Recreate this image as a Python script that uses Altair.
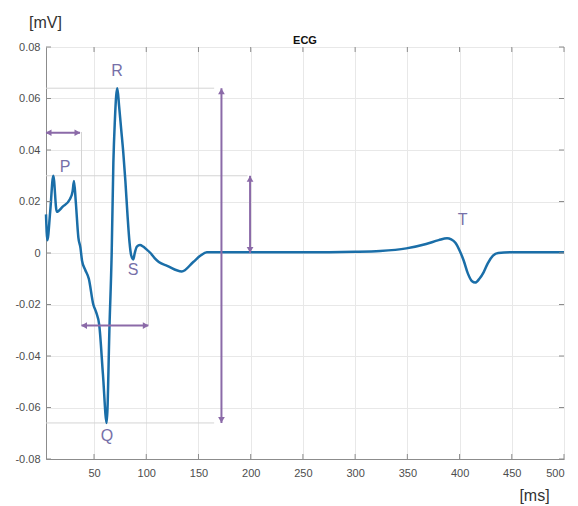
import altair as alt
import pandas as pd

# ECG trace (ms, mV)
ecg_ms = [4, 5.3, 8, 11, 14.3, 20, 27, 29.5, 30.8, 32.5, 35, 37, 38.5, 41.5, 45, 49.3, 52, 55,
          58.5, 62.1, 64.9, 66.9, 68.5, 70, 71.2, 72.3, 74, 76, 78, 80, 82, 84, 85.5, 87.6,
          89, 91, 94, 97, 100, 104, 108, 112, 120, 134, 145, 152, 158, 200, 250, 300, 324, 349,
          368, 380, 388, 392, 396, 400, 404, 408, 412, 415, 419, 423, 427, 432, 437, 450, 500]
ecg_mv = [0.015, 0.005, 0.016, 0.030, 0.016, 0.018, 0.021, 0.024, 0.028, 0.020, 0.006, 0.002,
          -0.003, -0.0065, -0.010, -0.020, -0.023, -0.028, -0.047, -0.066, -0.027, 0.0, 0.035,
          0.052, 0.061, 0.064, 0.057, 0.048, 0.039, 0.028, 0.015, 0.004, -0.0008, -0.0025, 0.0,
          0.0025, 0.0031, 0.0025, 0.0015, 0.0, -0.002, -0.0035, -0.005, -0.0072, -0.0035, -0.001,
          0.0003, 0.0003, 0.0003, 0.0005, 0.0008, 0.0018, 0.0035, 0.005, 0.0057, 0.0053, 0.0040,
          0.0010, -0.003, -0.008, -0.011, -0.0115, -0.010, -0.0075, -0.004, -0.001, 0.0, 0.0003,
          0.0003]

# wave labels
wave_names = ["P", "R", "S", "Q", "T"]
wave_ms = [22.2, 72, 87.4, 62.4, 403]
wave_mv = [0.0334, 0.0705, -0.0066, -0.0712, 0.0128]

# grey guide segments (x1, y1, x2, y2)
guide_x1 = [4, 4, 4, 38, 102]
guide_y1 = [0.064, -0.066, 0.030, 0.047, 0.0005]
guide_x2 = [165, 165, 197, 38, 102]
guide_y2 = [0.064, -0.066, 0.030, -0.028, -0.028]

# double arrows (x1, y1, x2, y2)
arrow_x1 = [4, 38, 172, 199.4]
arrow_y1 = [0.0467, -0.0282, 0.064, 0.030]
arrow_x2 = [36.6, 102, 172, 199.4]
arrow_y2 = [0.0467, -0.0282, -0.066, 0.0]

x_ticks = [50, 100, 150, 200, 250, 300, 350, 400, 450, 500]
y_ticks = [-0.08, -0.06, -0.04, -0.02, 0, 0.02, 0.04, 0.06, 0.08]

ecg = pd.DataFrame({"ms": ecg_ms, "mv": ecg_mv})
waves = pd.DataFrame({"name": wave_names, "ms": wave_ms, "mv": wave_mv})
guides = pd.DataFrame({"x1": guide_x1, "y1": guide_y1, "x2": guide_x2, "y2": guide_y2})
arrows = pd.DataFrame({"x1": arrow_x1, "y1": arrow_y1, "x2": arrow_x2, "y2": arrow_y2})
xt = pd.DataFrame({"v": x_ticks})
yt = pd.DataFrame({"v": y_ticks})

# arrow heads
head_rows = []
for x1, y1, x2, y2 in zip(arrow_x1, arrow_y1, arrow_x2, arrow_y2):
    if y1 == y2:
        head_rows.append({"x": x1 + 2.5, "y": y1, "shape": "triangle-left"})
        head_rows.append({"x": x2 - 2.5, "y": y2, "shape": "triangle-right"})
    else:
        top, bot = max(y1, y2), min(y1, y2)
        head_rows.append({"x": x1, "y": top - 0.0012, "shape": "triangle-up"})
        head_rows.append({"x": x1, "y": bot + 0.0012, "shape": "triangle-down"})
heads = pd.DataFrame(head_rows)

W, H = 518, 412
xs = alt.Scale(domain=[4, 500], nice=False, zero=False)
ys = alt.Scale(domain=[-0.08, 0.08], nice=False)

FONT = "Liberation Sans"
ylabel = ("datum.value == 0 ? '0' : (datum.value < 0 ? '-' + format(-datum.value, '.2f') "
          ": format(datum.value, '.2f'))")

x_axis = alt.Axis(values=x_ticks, grid=True, gridColor="#e8e8e8", ticks=False,
                  labelPadding=8, labelFont=FONT, labelFontSize=11, labelColor="#4d4d4d",
                  domainColor="#8c8c8c", title="[ms]", titleFont=FONT, titleFontSize=16,
                  titleFontWeight="normal", titleColor="#333333", titleX=488, titleY=41,
                  titleAlign="center", titleBaseline="alphabetic")
y_axis = alt.Axis(values=y_ticks, grid=True, gridColor="#e8e8e8", ticks=False,
                  labelPadding=6, labelFont=FONT, labelFontSize=11, labelColor="#4d4d4d",
                  labelExpr=ylabel, domainColor="#8c8c8c", title="[mV]", titleFont=FONT,
                  titleFontSize=16, titleFontWeight="normal", titleColor="#333333",
                  titleAngle=0, titleX=-1, titleY=-20, titleAlign="center",
                  titleBaseline="alphabetic")

line = alt.Chart(ecg).mark_line(color="#1a6ea8", strokeWidth=2.5, interpolate="monotone").encode(
    x=alt.X("ms:Q", scale=xs, axis=x_axis),
    y=alt.Y("mv:Q", scale=ys, axis=y_axis),
)

TICK = "#8c8c8c"
bottom_ticks = alt.Chart(xt).mark_rule(color=TICK, strokeWidth=1).encode(
    x="v:Q", y=alt.value(H), y2=alt.value(H - 5))
top_ticks = alt.Chart(xt).mark_rule(color=TICK, strokeWidth=1).encode(
    x="v:Q", y=alt.value(0), y2=alt.value(5))
left_ticks = alt.Chart(yt).mark_rule(color=TICK, strokeWidth=1).encode(
    y="v:Q", x=alt.value(0), x2=alt.value(5))
right_ticks = alt.Chart(yt).mark_rule(color=TICK, strokeWidth=1).encode(
    y="v:Q", x=alt.value(W), x2=alt.value(W - 5))

guide_layer = alt.Chart(guides).mark_rule(color="#d4d4d4", strokeWidth=1).encode(
    x="x1:Q", y="y1:Q", x2="x2:Q", y2="y2:Q")

arrow_layer = alt.Chart(arrows).mark_rule(color="#8b6aa8", strokeWidth=2).encode(
    x="x1:Q", y="y1:Q", x2="x2:Q", y2="y2:Q")

head_layer = alt.Chart(heads).mark_point(filled=True, color="#8b6aa8", size=45, opacity=1).encode(
    x="x:Q", y="y:Q",
    shape=alt.Shape("shape:N", scale=None, legend=None))

label_layer = alt.Chart(waves).mark_text(font=FONT, fontSize=16, color="#7670a8",
                                         align="center", baseline="middle").encode(
    x="ms:Q", y="mv:Q", text="name:N")

chart = alt.layer(guide_layer, line, bottom_ticks, top_ticks, left_ticks, right_ticks,
                  arrow_layer, head_layer, label_layer).properties(
    width=W, height=H,
    title=alt.TitleParams("ECG", fontSize=11, fontWeight="bold", font=FONT, color="#111111",
                          anchor="middle", offset=4, dy=36),
    autosize=alt.AutoSizeParams(type="none"),
    padding={"left": 38, "top": 39, "right": 6, "bottom": 47},
).configure_view(stroke="#8c8c8c", strokeWidth=1).configure(background="white")

chart.save("out.html", embed_options={"renderer": "svg", "actions": False})
